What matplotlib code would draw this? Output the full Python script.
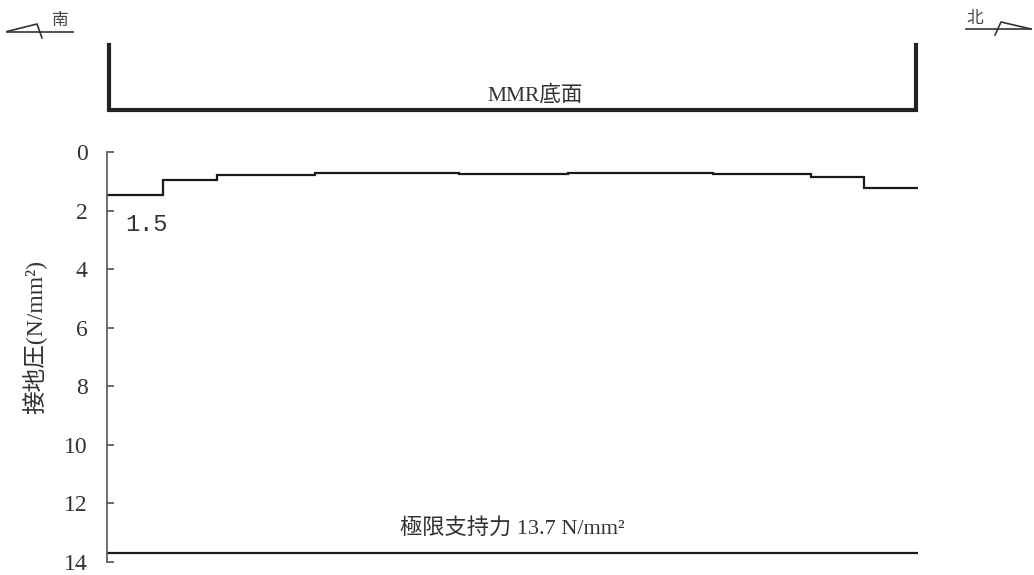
import matplotlib
matplotlib.use("Agg")
import matplotlib.pyplot as plt
from matplotlib.lines import Line2D

plt.rcParams['font.family'] = ['Liberation Serif', 'Noto Sans CJK JP', 'DejaVu Sans']

# position along the MMR base (% of length, south -> north)
edges = [0, 6.9, 13.6, 25.7, 37.6, 43.4, 50.1, 56.9, 62.5, 74.7, 86.8, 93.3, 100]
# contact pressure (N/mm2)
pressure = [1.45, 0.96, 0.76, 0.70, 0.71, 0.73, 0.74, 0.72, 0.71, 0.75, 0.85, 1.22]
limit_value = 13.7
yticks = [0, 2, 4, 6, 8, 10, 12, 14]

W, H = 1034, 575
fig = plt.figure(figsize=(W / 100, H / 100), dpi=100)
ax = fig.add_axes([107 / W, 1 - 561.6 / H, 811 / W, 409.2 / H])

ax.stairs(pressure, edges, baseline=None, color='#1a1a1a', lw=1.6)
ax.axhline(limit_value, color='#1a1a1a', lw=1.6)

ax.set_xlim(0, 100)
ax.set_ylim(14, 0)
ax.set_yticks(yticks)
ax.set_xticks([])
for s in ['top', 'right', 'bottom']:
    ax.spines[s].set_visible(False)
ax.spines['left'].set_color('#555555')
ax.spines['left'].set_linewidth(1.2)
ax.tick_params(axis='y', direction='in', length=5, width=1.2, color='#555555',
               labelsize=17, labelcolor='#333333', pad=14)

ax.set_ylabel('接地圧(N/mm²)', fontsize=17, color='#333333')
ax.yaxis.set_label_coords(-0.075, 0.55)

# value label of the south end
ax.text(2.3, 2.45, '1.5', family=['Liberation Mono', 'DejaVu Sans Mono'],
        fontsize=17, color='#333333', va='center', ha='left')

# ultimate bearing capacity
ax.annotate('極限支持力 13.7 N/mm²', xy=(50, limit_value), xytext=(0, 10),
            textcoords='offset points', ha='center', va='bottom',
            fontsize=16, color='#333333')

# MMR base bracket
ax.plot([0.002, 0.002, 0.998, 0.998], [1.262, 1.104, 1.104, 1.262],
        transform=ax.transAxes, clip_on=False, color='#222222', lw=3,
        solid_joinstyle='miter')
ax.text(0.528, 1.14, 'MMR底面', transform=ax.transAxes, ha='center', va='center',
        fontsize=15.5, color='#333333')


# direction marks (south / north)
def px(x, y):
    return x / W, 1 - y / H


def mark(xs, ys, **kw):
    fx, fy = zip(*[px(x, y) for x, y in zip(xs, ys)])
    fig.add_artist(Line2D(fx, fy, transform=fig.transFigure, color='#333333', lw=1.2, **kw))


mark([7, 73], [31.5, 31.5])
mark([7, 37, 42], [31.5, 24, 38])
fig.text(*px(60, 20), '南', ha='center', va='center', fontsize=12, color='#444444',
         family=['Noto Sans CJK JP'])

mark([966, 1031], [29, 29])
mark([995, 1001, 1031], [35, 22, 29])
fig.text(*px(975, 19), '北', ha='center', va='center', fontsize=12, color='#444444',
         family=['Noto Sans CJK JP'])

fig.savefig('out.png', dpi=100)
